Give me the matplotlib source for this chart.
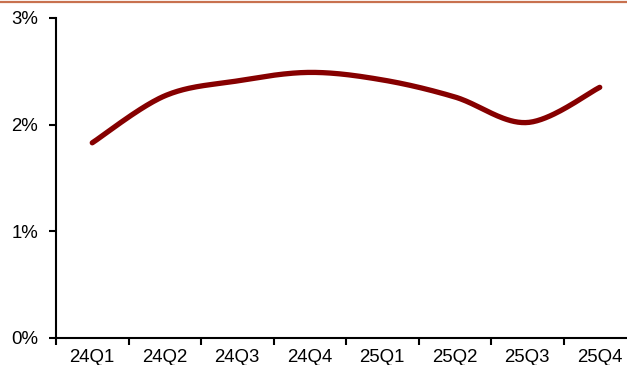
import numpy as np
import matplotlib
matplotlib.use("Agg")
import matplotlib.pyplot as plt
from matplotlib.lines import Line2D
from matplotlib.ticker import FuncFormatter, FixedLocator

plt.rcParams["font.family"] = ["Liberation Sans", "DejaVu Sans"]

quarters = ["24Q1", "24Q2", "24Q3", "24Q4", "25Q1", "25Q2", "25Q3", "25Q4"]
rate_pct = [1.83, 2.27, 2.41, 2.49, 2.42, 2.26, 2.02, 2.35]

LINE_C = "#860000"
RULE_C = "#C8714F"


def smooth(x, y, n=40):
    # Bezier smoothing through every point (Catmull-Rom style control points)
    x = np.asarray(x, float)
    y = np.asarray(y, float)
    px = np.concatenate([[x[0]], x, [x[-1]]])
    py = np.concatenate([[y[0]], y, [y[-1]]])
    xs, ys = [], []
    t = np.linspace(0, 1, n)
    for i in range(1, len(px) - 2):
        p0 = np.array([px[i], py[i]])
        p3 = np.array([px[i + 1], py[i + 1]])
        c1 = p0 + (np.array([px[i + 1], py[i + 1]]) - np.array([px[i - 1], py[i - 1]])) / 6
        c2 = p3 - (np.array([px[i + 2], py[i + 2]]) - np.array([px[i], py[i]])) / 6
        b = ((1 - t) ** 3)[:, None] * p0 + (3 * (1 - t) ** 2 * t)[:, None] * c1 \
            + (3 * (1 - t) * t ** 2)[:, None] * c2 + (t ** 3)[:, None] * p3
        xs.append(b[:, 0])
        ys.append(b[:, 1])
    return np.concatenate(xs), np.concatenate(ys)


fig = plt.figure(figsize=(6.27, 3.65), dpi=100)
fig.patch.set_facecolor("white")

# thin rule along the top edge
fig.add_artist(Line2D([0, 1], [1 - 2 / 365, 1 - 2 / 365], transform=fig.transFigure,
                      color=RULE_C, linewidth=1.6))

ax = fig.add_axes([56 / 627, 27 / 365, 580 / 627, 320 / 365])
x = np.arange(len(quarters))
sx, sy = smooth(x, rate_pct)
ax.plot(sx, sy, color=LINE_C, linewidth=3.8, solid_capstyle="round")

ax.set_xlim(-0.5, len(quarters) - 0.5)
ax.set_ylim(0, 3)
ax.set_yticks([0, 1, 2, 3])
ax.yaxis.set_major_formatter(FuncFormatter(lambda v, _: f"{v:.0f}%"))

# category axis: ticks between categories, labels centred
ax.xaxis.set_major_locator(FixedLocator(np.arange(-0.5, len(quarters), 1.0)))
ax.xaxis.set_minor_locator(FixedLocator(x))
ax.set_xticklabels([])
ax.set_xticklabels(quarters, minor=True)
ax.tick_params(axis="x", which="major", direction="out", length=5, width=1.5)
ax.tick_params(axis="x", which="minor", length=0, pad=8, labelsize=13.4)
ax.tick_params(axis="y", direction="out", length=5, width=1.5, pad=8, labelsize=13.4)

for s in ("top", "right"):
    ax.spines[s].set_visible(False)
for s in ("left", "bottom"):
    ax.spines[s].set_linewidth(1.5)
ax.spines["bottom"].set_capstyle("butt")

fig.savefig("out.png", dpi=100, facecolor="white")
